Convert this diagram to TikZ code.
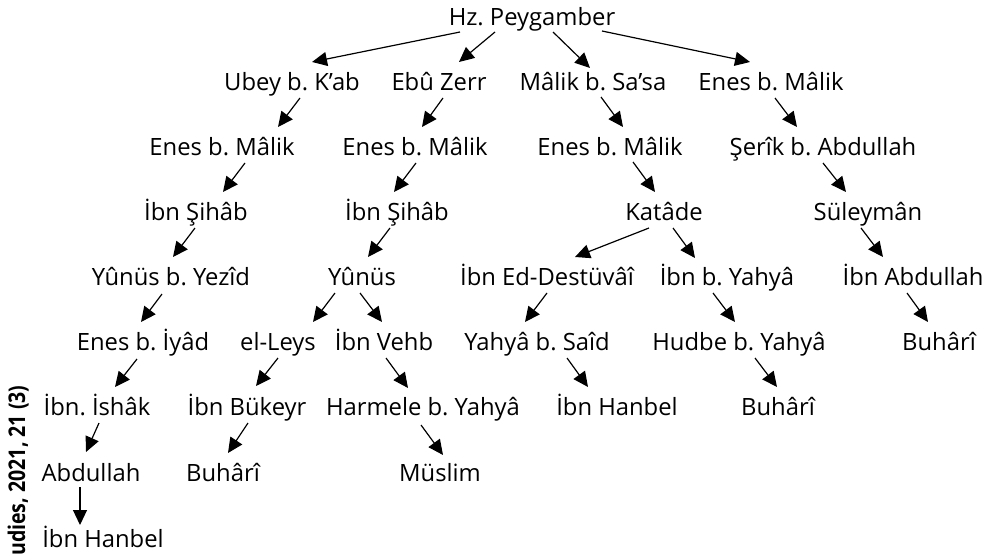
\documentclass[tikz,border=0pt]{standalone}
\usepackage{fontspec}
\setmainfont{Open Sans}
\newfontfamily\sidefont[FakeStretch=0.85]{Open Sans}
\usetikzlibrary{arrows.meta}
\begin{document}
\frenchspacing
\begin{tikzpicture}[x=1pt,y=-1pt,
  lbl/.style={inner sep=0pt, anchor=base, font=\fontsize{23.8pt}{28pt}\selectfont},
  arr/.style={line width=1.2pt, -{Triangle[length=15pt,width=14pt]}},
  sidetext/.style={rotate=90, anchor=base west, inner sep=0pt, font=\sidefont\bfseries\fontsize{23pt}{26pt}\selectfont}]
\useasboundingbox (0,0) rectangle (993,554);
\clip (0,0) rectangle (993,554);
% row 0
\node[lbl] (n0) at (532,25) {Hz. Peygamber};
% row 1
\node[lbl] (ubey) at (292,90) {Ubey b. K’ab};
\node[lbl] (ebu) at (439,90) {Ebû Zerr};
\node[lbl] (malik) at (593,90) {Mâlik b. Sa’sa};
\node[lbl] (enesR) at (771,90) {Enes b. Mâlik};
% row 2
\node[lbl] (enesA) at (222,155) {Enes b. Mâlik};
\node[lbl] (enesB) at (415,155) {Enes b. Mâlik};
\node[lbl] (enesC) at (610,155) {Enes b. Mâlik};
\node[lbl] (serik) at (823,155) {Şerîk b. Abdullah};
% row 3
\node[lbl] (sihabA) at (196,220) {İbn Şihâb};
\node[lbl] (sihabB) at (397,220) {İbn Şihâb};
\node[lbl] (katade) at (664,220) {Katâde};
\node[lbl] (suleyman) at (868,220) {Süleymân};
% row 4
\node[lbl] (yunusY) at (171,285) {Yûnüs b. Yezîd};
\node[lbl] (yunus) at (362,285) {Yûnüs};
\node[lbl] (destuvai) at (547,285) {İbn Ed-Destüvâî};
\node[lbl] (ibnyahya) at (727,285) {İbn b. Yahyâ};
\node[lbl] (ibnabd) at (913,285) {İbn Abdullah};
% row 5
\node[lbl] (enesI) at (143,350) {Enes b. İyâd};
\node[lbl] (leys) at (278,350) {el-Leys};
\node[lbl] (vehb) at (384,350) {İbn Vehb};
\node[lbl] (yahyasaid) at (537,350) {Yahyâ b. Saîd};
\node[lbl] (hudbe) at (739,350) {Hudbe b. Yahyâ};
\node[lbl] (buhariR) at (939,350) {Buhârî};
% row 6
\node[lbl] (ishak) at (97,415) {İbn. İshâk};
\node[lbl] (bukeyr) at (247,415) {İbn Bükeyr};
\node[lbl] (harmele) at (423,415) {Harmele b. Yahyâ};
\node[lbl] (hanbelM) at (617,415) {İbn Hanbel};
\node[lbl] (buhariH) at (778,415) {Buhârî};
% row 7
\node[lbl] (abdullah) at (91,481) {Abdullah};
\node[lbl] (buhariB) at (223,481) {Buhârî};
\node[lbl] (muslim) at (440,481) {Müslim};
% row 8
\node[lbl] (hanbelL) at (103,547) {İbn Hanbel};
% side text
\node[sidetext] (side) at (25,556) {udies, 2021, 21 (3)};
% arrows
\draw[arr] ([shift={(-72,7)}]n0.base) -- ([shift={(20,-28)}]ubey.base);
\draw[arr] ([shift={(-37,7)}]n0.base) -- ([shift={(20,-28)}]ebu.base);
\draw[arr] ([shift={(21,7)}]n0.base) -- ([shift={(-3,-22)}]malik.base);
\draw[arr] ([shift={(70,6)}]n0.base) -- ([shift={(-21,-28)}]enesR.base);
\draw[arr] ([shift={(8,8)}]ubey.base) -- ([shift={(56,-28)}]enesA.base);
\draw[arr] ([shift={(4,8)}]ebu.base) -- ([shift={(7,-28)}]enesB.base);
\draw[arr] ([shift={(8,7)}]malik.base) -- ([shift={(13,-28)}]enesC.base);
\draw[arr] ([shift={(4,8)}]enesR.base) -- ([shift={(-26,-28)}]serik.base);
\draw[arr] ([shift={(23,8)}]enesA.base) -- ([shift={(27,-28)}]sihabA.base);
\draw[arr] ([shift={(1,8)}]enesB.base) -- ([shift={(-3,-28)}]sihabB.base);
\draw[arr] ([shift={(23,7)}]enesC.base) -- ([shift={(-9,-28)}]katade.base);
\draw[arr] ([shift={(0,8)}]serik.base) -- ([shift={(-22,-28)}]suleyman.base);
\draw[arr] ([shift={(-1,8)}]sihabA.base) -- ([shift={(2,-28)}]yunusY.base);
\draw[arr] ([shift={(-7,8)}]sihabB.base) -- ([shift={(6,-28)}]yunus.base);
\draw[arr] ([shift={(-15,8)}]katade.base) -- ([shift={(28,-28)}]destuvai.base);
\draw[arr] ([shift={(9,8)}]katade.base) -- ([shift={(-32,-27)}]ibnyahya.base);
\draw[arr] ([shift={(-7,8)}]suleyman.base) -- ([shift={(-30,-28)}]ibnabd.base);
\draw[arr] ([shift={(-9,9)}]yunusY.base) -- ([shift={(-2,-28)}]enesI.base);
\draw[arr] ([shift={(-27,8)}]yunus.base) -- ([shift={(35,-28)}]leys.base);
\draw[arr] ([shift={(-2,8)}]yunus.base) -- ([shift={(-2,-28)}]vehb.base);
\draw[arr] ([shift={(0,8)}]destuvai.base) -- ([shift={(-12,-28)}]yahyasaid.base);
\draw[arr] ([shift={(-14,8)}]ibnyahya.base) -- ([shift={(-4,-28)}]hudbe.base);
\draw[arr] ([shift={(-6,8)}]ibnabd.base) -- ([shift={(-11,-28)}]buhariR.base);
\draw[arr] ([shift={(-6,9)}]enesI.base) -- ([shift={(18,-28)}]ishak.base);
\draw[arr] ([shift={(0,8)}]leys.base) -- ([shift={(9,-29)}]bukeyr.base);
\draw[arr] ([shift={(2,8)}]vehb.base) -- ([shift={(-15,-27)}]harmele.base);
\draw[arr] ([shift={(30,8)}]yahyasaid.base) -- ([shift={(-29,-28)}]hanbelM.base);
\draw[arr] ([shift={(16,8)}]hudbe.base) -- ([shift={(-1,-28)}]buhariH.base);
\draw[arr] ([shift={(2,8)}]ishak.base) -- ([shift={(-5,-29)}]abdullah.base);
\draw[arr] ([shift={(1,8)}]bukeyr.base) -- ([shift={(5,-28)}]buhariB.base);
\draw[arr] ([shift={(-2,10)}]harmele.base) -- ([shift={(3,-26)}]muslim.base);
\draw[arr] ([shift={(-11,6)}]abdullah.base) -- ([shift={(-23,-22)}]hanbelL.base);
\end{tikzpicture}
\end{document}
